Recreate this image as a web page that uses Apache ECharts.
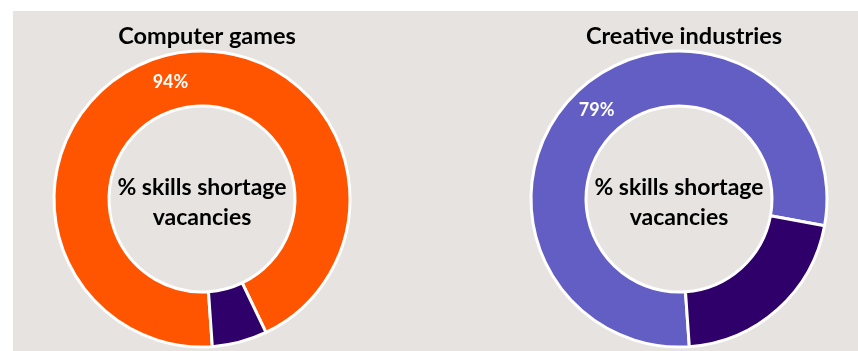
<!DOCTYPE html>
<html>
<head>
<meta charset="utf-8">
<script src="https://cdn.jsdelivr.net/npm/echarts@6/dist/echarts.min.js"></script>
<style>
  html, body { margin: 0; padding: 0; background: #ffffff; }
  #chart { width: 858px; height: 351px; }
</style>
</head>
<body>
<div id="chart"></div>
<script>
// Sector names and the share of vacancies that are skills-shortage vacancies
const groups = ['Computer games', 'Creative industries'];
const shortageShare = [94, 79];
const otherShare = [6, 21];
const centerText = '% skills shortage\nvacancies';

const mainColors = ['#FF5500', '#625EC4'];
const restColor = '#2F006A';
const centers = [[202, 199], [679, 199]];
const FONT = 'Lato, "Open Sans", sans-serif';

const chart = echarts.init(document.getElementById('chart'), null, { renderer: 'canvas' });

const series = groups.map((g, i) => ({
  type: 'pie',
  name: g,
  center: centers[i],
  radius: [93, 148],
  startAngle: -86,
  clockwise: true,
  avoidLabelOverlap: false,
  silent: true,
  itemStyle: { borderColor: '#ffffff', borderWidth: 3 },
  label: {
    show: true,
    position: 'inside',
    formatter: '{c}%',
    color: '#ffffff',
    fontFamily: FONT,
    fontWeight: 'bold',
    fontSize: 18,
    offset: [0, 3]
  },
  labelLine: { show: false },
  data: [
    { name: 'Skills shortage', value: shortageShare[i], itemStyle: { color: mainColors[i] } },
    { name: 'Other', value: otherShare[i], itemStyle: { color: restColor }, label: { show: false } }
  ]
}));

chart.setOption({
  animation: false,
  backgroundColor: '#ffffff',
  title: groups.map((g, i) => ({
    text: g,
    left: centers[i][0],
    top: 19,
    textAlign: 'center',
    textStyle: { fontFamily: FONT, fontWeight: 'bold', fontSize: 23.5, color: '#000000' }
  })),
  graphic: [
    {
      type: 'rect',
      z: -10,
      shape: { x: 13, y: 11, width: 845, height: 340 },
      style: { fill: '#E7E3E0' }
    },
    ...groups.map((g, i) => ({
      type: 'text',
      x: centers[i][0],
      y: centers[i][1] + 4,
      z: 10,
      style: {
        text: centerText,
        textAlign: 'center',
        textVerticalAlign: 'middle',
        fontFamily: FONT,
        fontWeight: 'bold',
        fontSize: 23,
        lineHeight: 30,
        fill: '#000000'
      }
    }))
  ],
  series: series
});
</script>
</body>
</html>
